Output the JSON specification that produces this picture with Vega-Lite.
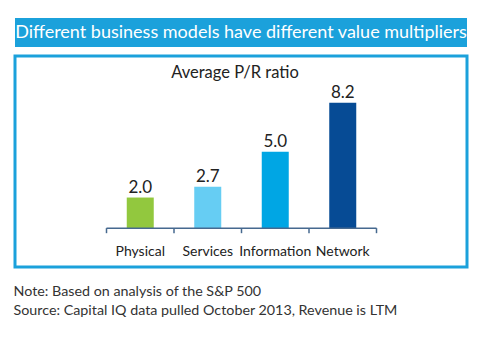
{
  "$schema": "https://vega.github.io/schema/vega-lite/v6.json",
  "padding": {"left": 13, "top": 18, "right": 0, "bottom": 0},
  "autosize": {"type": "pad"},
  "background": "white",
  "config": {"font": "Lato", "view": {"stroke": null}},
  "title": {
    "text": ["Note: Based on analysis of the S&P 500", "Source: Capital IQ data pulled October 2013, Revenue is LTM"],
    "orient": "bottom", "anchor": "start", "frame": "bounds",
    "fontSize": 14.3, "fontWeight": "normal", "color": "#333", "lineHeight": 19, "offset": 16
  },
  "spacing": 7,
  "vconcat": [
    {
      "width": 452, "height": 29,
      "view": {"fill": "#1ba1db", "stroke": null},
      "data": {"values": [{"t": "Different business models have different value multipliers"}]},
      "mark": {"type": "text", "color": "white", "fontSize": 18, "baseline": "middle"},
      "encoding": {"text": {"field": "t"}}
    },
    {
      "width": 452, "height": 211,
      "view": {"stroke": "#1ba1db", "strokeWidth": 3},
      "title": {"text": "Average P/R ratio", "offset": -25, "dx": -6, "fontSize": 16.5, "fontWeight": "normal", "color": "#222", "anchor": "middle"},
      "resolve": {"scale": {"x": "independent"}},
      "layer": [
        {
          "data": {"values": [
            {"cat": "Physical", "value": 2.0},
            {"cat": "Services", "value": 2.7},
            {"cat": "Information", "value": 5.0},
            {"cat": "Network", "value": 8.2}
          ]},
          "encoding": {
            "x": {
              "field": "cat", "type": "nominal", "sort": null,
              "scale": {"range": [91.5, 361.5], "paddingInner": 0.6, "paddingOuter": 0.3},
              "axis": {
                "title": null, "orient": "bottom", "offset": -38.8,
                "domain": false, "ticks": false, "tickSize": 0,
                "labelFontSize": 14, "labelColor": "#222", "labelPadding": 16, "labelAngle": 0
              }
            },
            "y": {"field": "value", "type": "quantitative", "scale": {"domain": [-2.54, 11.25], "nice": false}, "axis": null}
          },
          "layer": [
            {
              "mark": {"type": "bar"},
              "encoding": {
                "y2": {"datum": 0},
                "color": {
                  "field": "cat", "type": "nominal", "sort": null,
                  "scale": {"domain": ["Physical", "Services", "Information", "Network"], "range": ["#92c83e", "#66cdf3", "#00a6e4", "#064b95"]},
                  "legend": null
                }
              }
            },
            {
              "mark": {"type": "text", "baseline": "alphabetic", "dy": -5, "fontSize": 17, "color": "#222"},
              "encoding": {"text": {"field": "value", "type": "quantitative", "format": ".1f"}}
            }
          ]
        },
        {
          "layer": [
            {
              "data": {"values": [{"a": 0, "b": 4}]},
              "mark": {"type": "rule", "color": "#46698f", "strokeWidth": 1.5},
              "encoding": {
                "x": {"field": "a", "type": "quantitative", "scale": {"domain": [0, 4], "range": [91.5, 361.5], "nice": false, "zero": false}, "axis": null},
                "x2": {"field": "b"},
                "y": {"datum": 0}
              }
            },
            {
              "data": {"values": [{"k": 0}, {"k": 1}, {"k": 2}, {"k": 3}, {"k": 4}]},
              "mark": {"type": "rule", "color": "#46698f", "strokeWidth": 1.5},
              "encoding": {
                "x": {"field": "k", "type": "quantitative", "axis": null},
                "y": {"datum": 0},
                "y2": {"datum": -0.33}
              }
            }
          ]
        }
      ]
    }
  ]
}
